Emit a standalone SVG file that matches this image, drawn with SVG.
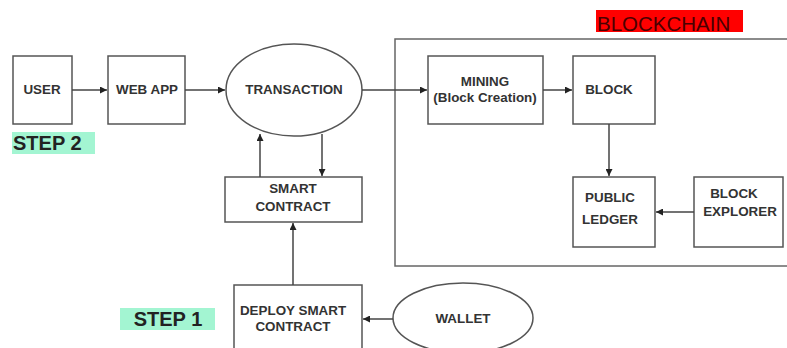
<svg xmlns="http://www.w3.org/2000/svg" width="787" height="348" viewBox="0 0 787 348">
<style>
.n{fill:#fff;stroke:#555;stroke-width:1.5}
.t{font-family:"Liberation Sans",Arial,sans-serif;font-weight:bold;font-size:13.4px;fill:#333;text-anchor:middle}
.c{stroke:#444;stroke-width:1.5;fill:none}
.s{font-family:"Liberation Sans",Arial,sans-serif;font-weight:bold;font-size:20px;fill:#222}
</style>
<defs>
<marker id="a" viewBox="0 0 10 10" refX="10" refY="5" markerWidth="7" markerHeight="7" orient="auto" markerUnits="userSpaceOnUse">
<path d="M0,0L10,5L0,10z" fill="#222"/>
</marker>
</defs>
<rect width="787" height="348" fill="#fff"/>
<g id="blockchain">
<rect x="395" y="39" width="400" height="227" fill="none" stroke="#666" stroke-width="1.5"/>
<rect x="596" y="10" width="147" height="22" fill="#ff0000"/>
<text x="597" y="31" font-family="Liberation Sans,Arial,sans-serif" font-size="20.5" fill="#4a0000">BLOCKCHAIN</text>
</g>
<g id="step2">
<rect x="12" y="132" width="83" height="22" fill="#a3f5d2"/>
<text class="s" x="13" y="150">STEP 2</text>
</g>
<g id="step1">
<rect x="120" y="308" width="95" height="22" fill="#a3f5d2"/>
<text class="s" x="168" y="326" text-anchor="middle">STEP 1</text>
</g>
<g id="user"><rect class="n" x="13" y="56" width="59" height="68"/><text class="t" x="42" y="94">USER</text></g>
<g id="webapp"><rect class="n" x="108" y="56" width="77" height="68"/><text class="t" x="147" y="94">WEB APP</text></g>
<g id="transaction"><ellipse class="n" cx="294" cy="90" rx="68" ry="46"/><text class="t" x="294" y="94">TRANSACTION</text></g>
<g id="mining"><rect class="n" x="428" y="56" width="115" height="68"/><text class="t" x="485" y="86">MINING</text><text class="t" x="485" y="102">(Block Creation)</text></g>
<g id="block"><rect class="n" x="573" y="56" width="82" height="68"/><text class="t" x="609" y="94">BLOCK</text></g>
<g id="ledger"><rect class="n" x="573" y="177" width="82" height="70"/><text class="t" x="610" y="202">PUBLIC</text><text class="t" x="610" y="224">LEDGER</text></g>
<g id="explorer"><rect class="n" x="694" y="177" width="89" height="70"/><text class="t" x="734" y="198">BLOCK</text><text class="t" x="740" y="216">EXPLORER</text></g>
<g id="smart"><rect class="n" x="225" y="177" width="137" height="45"/><text class="t" x="293" y="193">SMART</text><text class="t" x="293" y="211">CONTRACT</text></g>
<g id="deploy"><rect class="n" x="234" y="285" width="128" height="70"/><text class="t" x="293" y="315">DEPLOY SMART</text><text class="t" x="293" y="331">CONTRACT</text></g>
<g id="wallet"><ellipse class="n" cx="463" cy="318" rx="70" ry="35"/><text class="t" x="463" y="323">WALLET</text></g>
<g id="connectors">
<line class="c" x1="72" y1="90" x2="107" y2="90" marker-end="url(#a)"/>
<line class="c" x1="185" y1="90" x2="225" y2="90" marker-end="url(#a)"/>
<line class="c" x1="362" y1="90" x2="427" y2="90" marker-end="url(#a)"/>
<line class="c" x1="543" y1="90" x2="572" y2="90" marker-end="url(#a)"/>
<line class="c" x1="609" y1="124" x2="609" y2="176" marker-end="url(#a)"/>
<line class="c" x1="694" y1="212" x2="656" y2="212" marker-end="url(#a)"/>
<line class="c" x1="260" y1="177" x2="260" y2="134" marker-end="url(#a)"/>
<line class="c" x1="322" y1="134" x2="322" y2="176" marker-end="url(#a)"/>
<line class="c" x1="293" y1="285" x2="293" y2="223" marker-end="url(#a)"/>
<line class="c" x1="393" y1="319" x2="363" y2="319" marker-end="url(#a)"/>
</g>
</svg>
